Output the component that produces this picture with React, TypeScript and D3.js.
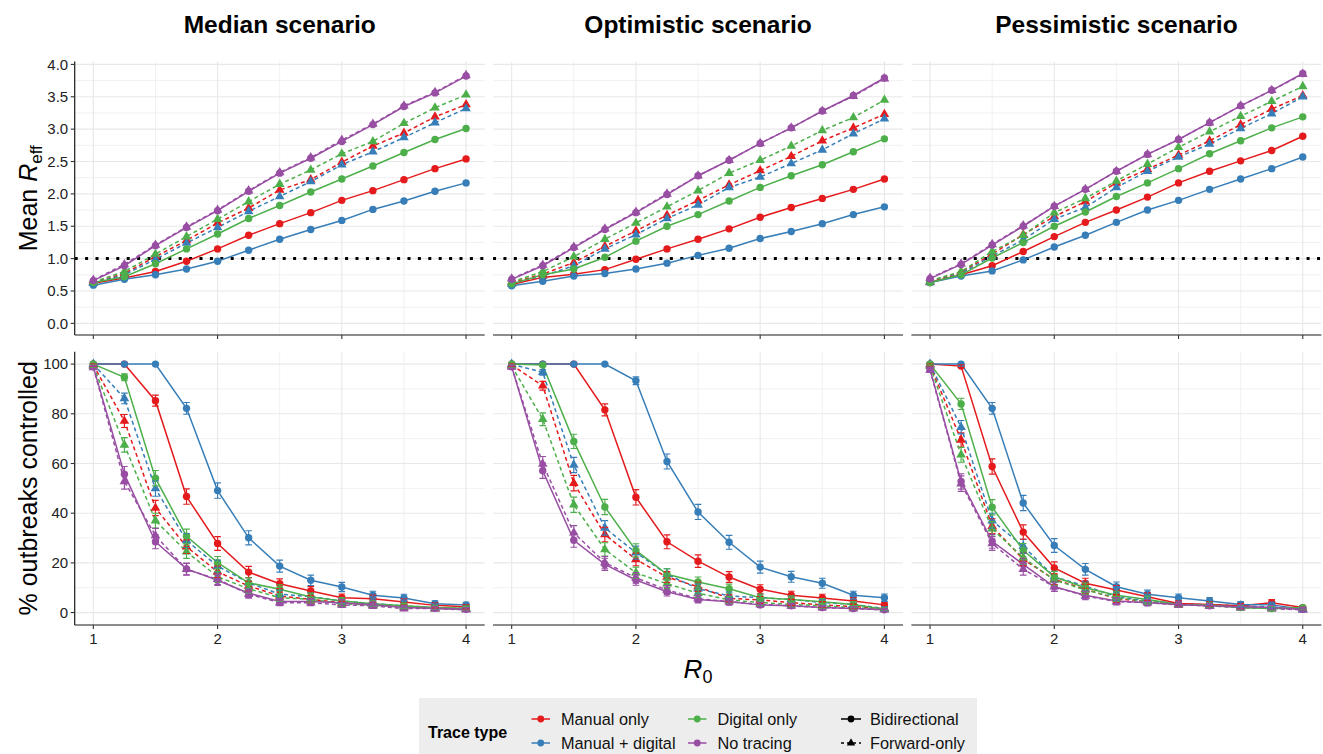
import React from "react";
import * as d3 from "d3";

// ---------- data ----------
const R0 = [1, 1.25, 1.5, 1.75, 2, 2.25, 2.5, 2.75, 3, 3.25, 3.5, 3.75, 4];
const scenarios = ["Median scenario", "Optimistic scenario", "Pessimistic scenario"];
const traceTypes = ["Manual only", "Manual + digital", "Digital only", "No tracing"];
const traceColors = ["#E41A1C", "#377EB8", "#4DAF4A", "#984EA3"];
const directions = ["Bidirectional", "Forward-only"];
const xTicks = [1, 2, 3, 4];
const xMinor = [1.5, 2.5, 3.5];
const reffTicks = [0, 0.5, 1, 1.5, 2, 2.5, 3, 3.5, 4];
const reffMinor = [0.25, 0.75, 1.25, 1.75, 2.25, 2.75, 3.25, 3.75];
const pctTicks = [0, 20, 40, 60, 80, 100];
const pctMinor = [10, 30, 50, 70, 90];
const reffThreshold = 1;
const simulationsPerPoint = 1000;

// Mean R_eff — Median scenario
const reffMedManualBi = [0.62, 0.70, 0.80, 0.96, 1.15, 1.36, 1.54, 1.71, 1.90, 2.05, 2.22, 2.39, 2.54];
const reffMedMixedBi = [0.59, 0.68, 0.75, 0.84, 0.96, 1.13, 1.30, 1.45, 1.59, 1.76, 1.89, 2.04, 2.17];
const reffMedDigitalBi = [0.63, 0.72, 0.92, 1.15, 1.38, 1.62, 1.82, 2.03, 2.23, 2.43, 2.64, 2.84, 3.01];
const reffMedNoneBi = [0.66, 0.89, 1.20, 1.48, 1.74, 2.04, 2.32, 2.55, 2.81, 3.07, 3.35, 3.56, 3.82];
const reffMedManualFw = [0.63, 0.77, 1.03, 1.28, 1.55, 1.78, 2.06, 2.22, 2.49, 2.74, 2.94, 3.19, 3.38];
const reffMedMixedFw = [0.62, 0.75, 0.99, 1.24, 1.48, 1.73, 1.96, 2.19, 2.45, 2.65, 2.87, 3.10, 3.32];
const reffMedDigitalFw = [0.64, 0.80, 1.07, 1.34, 1.61, 1.88, 2.15, 2.37, 2.62, 2.81, 3.09, 3.33, 3.53];
const reffMedNoneFw = [0.67, 0.91, 1.21, 1.49, 1.75, 2.05, 2.33, 2.56, 2.83, 3.08, 3.36, 3.57, 3.83];

// Mean R_eff — Optimistic scenario
const reffOptManualBi = [0.60, 0.71, 0.76, 0.83, 0.99, 1.15, 1.30, 1.46, 1.64, 1.79, 1.93, 2.07, 2.23];
const reffOptMixedBi = [0.58, 0.65, 0.73, 0.77, 0.84, 0.93, 1.05, 1.16, 1.31, 1.42, 1.54, 1.68, 1.80];
const reffOptDigitalBi = [0.61, 0.75, 0.84, 1.02, 1.27, 1.50, 1.68, 1.89, 2.10, 2.28, 2.45, 2.65, 2.85];
const reffOptNoneBi = [0.68, 0.89, 1.17, 1.45, 1.71, 1.99, 2.28, 2.52, 2.78, 3.02, 3.28, 3.52, 3.79];
const reffOptManualFw = [0.63, 0.76, 0.94, 1.19, 1.43, 1.67, 1.90, 2.14, 2.36, 2.58, 2.82, 3.02, 3.23];
const reffOptMixedFw = [0.61, 0.73, 0.89, 1.15, 1.37, 1.62, 1.83, 2.10, 2.26, 2.47, 2.68, 2.93, 3.16];
const reffOptDigitalFw = [0.64, 0.80, 1.03, 1.30, 1.55, 1.80, 2.05, 2.32, 2.52, 2.74, 2.98, 3.18, 3.45];
const reffOptNoneFw = [0.69, 0.90, 1.18, 1.46, 1.72, 2.00, 2.28, 2.52, 2.78, 3.02, 3.28, 3.51, 3.78];

// Mean R_eff — Pessimistic scenario
const reffPesManualBi = [0.63, 0.75, 0.89, 1.11, 1.34, 1.56, 1.75, 1.95, 2.17, 2.35, 2.51, 2.67, 2.89];
const reffPesMixedBi = [0.63, 0.73, 0.81, 0.98, 1.18, 1.36, 1.56, 1.75, 1.90, 2.07, 2.23, 2.39, 2.57];
const reffPesDigitalBi = [0.63, 0.75, 1.01, 1.25, 1.50, 1.72, 1.96, 2.17, 2.39, 2.62, 2.82, 3.02, 3.19];
const reffPesNoneBi = [0.69, 0.91, 1.21, 1.50, 1.81, 2.07, 2.35, 2.61, 2.84, 3.10, 3.36, 3.60, 3.86];
const reffPesManualFw = [0.64, 0.79, 1.07, 1.37, 1.65, 1.88, 2.17, 2.38, 2.60, 2.82, 3.07, 3.31, 3.52];
const reffPesMixedFw = [0.63, 0.77, 1.04, 1.29, 1.61, 1.79, 2.10, 2.35, 2.57, 2.77, 3.01, 3.24, 3.50];
const reffPesDigitalFw = [0.66, 0.80, 1.11, 1.36, 1.71, 1.93, 2.20, 2.46, 2.72, 2.96, 3.20, 3.43, 3.66];
const reffPesNoneFw = [0.70, 0.92, 1.22, 1.51, 1.81, 2.07, 2.35, 2.61, 2.84, 3.10, 3.36, 3.60, 3.85];

// % outbreaks controlled — Median scenario
const pctMedManualBi = [100, 100, 85.3, 46.7, 27.8, 16.3, 11.6, 8.7, 6.0, 5.6, 4.3, 2.9, 2.3];
const pctMedMixedBi = [100, 100, 100, 82.2, 49.1, 30.1, 18.7, 13.0, 10.3, 7.0, 5.9, 3.6, 3.1];
const pctMedDigitalBi = [100, 94.7, 54.1, 30.7, 20.1, 12.0, 9.4, 6.3, 4.7, 3.6, 2.7, 2.0, 1.7];
const pctMedNoneBi = [98.9, 55.7, 28.5, 17.6, 13.0, 7.8, 4.5, 4.5, 4.0, 3.2, 2.0, 1.7, 1.3];
const pctMedManualFw = [99.6, 77.1, 42.1, 26.5, 16.4, 10.7, 6.7, 5.3, 4.0, 3.1, 2.3, 1.7, 1.3];
const pctMedMixedFw = [100, 86.2, 49.9, 29.0, 18.7, 12.0, 7.4, 6.4, 4.7, 3.6, 2.7, 2.0, 1.6];
const pctMedDigitalFw = [99.2, 67.5, 37.0, 24.5, 14.4, 9.6, 6.0, 5.3, 3.6, 2.9, 2.3, 1.6, 1.3];
const pctMedNoneFw = [98.7, 52.8, 31.0, 17.4, 13.4, 7.4, 4.0, 4.0, 3.1, 2.7, 1.6, 1.6, 1.1];

// % outbreaks controlled — Optimistic scenario
const pctOptManualBi = [100, 100, 100, 81.6, 46.4, 28.5, 20.7, 14.3, 9.4, 7.0, 5.9, 4.7, 3.1];
const pctOptMixedBi = [100, 100, 100, 100, 93.3, 60.8, 40.5, 28.3, 18.3, 14.4, 11.8, 7.0, 6.0];
const pctOptDigitalBi = [100, 99.6, 68.9, 42.5, 25.0, 15.4, 12.3, 9.6, 6.0, 5.3, 4.4, 3.3, 1.3];
const pctOptNoneBi = [98.9, 57.1, 29.1, 19.4, 13.1, 8.4, 5.3, 4.4, 3.1, 2.7, 2.0, 1.6, 1.1];
const pctOptManualFw = [99.6, 91.3, 52.1, 31.4, 21.4, 14.3, 10.4, 5.7, 5.1, 4.0, 3.1, 2.4, 1.6];
const pctOptMixedFw = [100, 96.7, 59.4, 34.1, 24.1, 15.4, 9.6, 6.7, 6.0, 5.3, 4.0, 3.3, 1.6];
const pctOptDigitalFw = [99.2, 77.8, 43.4, 25.4, 16.0, 11.6, 7.8, 5.1, 4.0, 3.3, 2.7, 2.0, 1.3];
const pctOptNoneFw = [98.9, 59.8, 32.1, 20.1, 14.0, 9.1, 5.6, 4.4, 3.3, 2.7, 2.0, 1.6, 1.1];

// % outbreaks controlled — Pessimistic scenario
const pctPesManualBi = [100, 99.2, 58.8, 32.4, 18.0, 11.8, 9.1, 6.4, 3.7, 3.3, 2.7, 4.0, 2.0];
const pctPesMixedBi = [100, 100, 82.2, 44.1, 27.0, 17.4, 10.4, 7.4, 6.0, 4.7, 3.3, 3.1, 1.3];
const pctPesDigitalBi = [100, 84.0, 42.4, 25.1, 14.4, 10.0, 7.0, 5.3, 3.3, 3.1, 2.0, 1.6, 2.0];
const pctPesNoneBi = [97.9, 52.8, 28.7, 19.4, 10.4, 7.0, 4.7, 4.0, 3.3, 2.7, 2.3, 2.0, 1.3];
const pctPesManualFw = [99.6, 69.5, 34.8, 21.4, 13.4, 9.4, 5.6, 4.4, 3.3, 2.7, 2.3, 2.0, 1.3];
const pctPesMixedFw = [100, 74.6, 37.0, 26.7, 14.4, 10.7, 6.4, 4.7, 3.6, 3.1, 2.7, 2.3, 1.1];
const pctPesDigitalFw = [99.2, 63.5, 33.7, 22.1, 13.1, 9.1, 6.0, 4.4, 3.3, 2.7, 2.0, 1.6, 1.3];
const pctPesNoneFw = [97.6, 51.9, 27.8, 17.4, 10.4, 6.7, 4.4, 4.0, 3.1, 2.7, 2.0, 1.6, 1.1];

// [scenario][direction][traceType]
const reffTable = [
  [[reffMedManualBi, reffMedMixedBi, reffMedDigitalBi, reffMedNoneBi], [reffMedManualFw, reffMedMixedFw, reffMedDigitalFw, reffMedNoneFw]],
  [[reffOptManualBi, reffOptMixedBi, reffOptDigitalBi, reffOptNoneBi], [reffOptManualFw, reffOptMixedFw, reffOptDigitalFw, reffOptNoneFw]],
  [[reffPesManualBi, reffPesMixedBi, reffPesDigitalBi, reffPesNoneBi], [reffPesManualFw, reffPesMixedFw, reffPesDigitalFw, reffPesNoneFw]],
];
const pctTable = [
  [[pctMedManualBi, pctMedMixedBi, pctMedDigitalBi, pctMedNoneBi], [pctMedManualFw, pctMedMixedFw, pctMedDigitalFw, pctMedNoneFw]],
  [[pctOptManualBi, pctOptMixedBi, pctOptDigitalBi, pctOptNoneBi], [pctOptManualFw, pctOptMixedFw, pctOptDigitalFw, pctOptNoneFw]],
  [[pctPesManualBi, pctPesMixedBi, pctPesDigitalBi, pctPesNoneBi], [pctPesManualFw, pctPesMixedFw, pctPesDigitalFw, pctPesNoneFw]],
];

// ---------- layout ----------
const W = 1323;
const H = 754;
const FONT = "'Liberation Sans', Arial, Helvetica, sans-serif";
const panelLeft0 = 74.7;
const panelW = 410;
const panelStep = 418.35;
const topRows = [
  { y0: 61.5, y1: 335, domain: [-0.18, 4.045], ticks: reffTicks, minor: reffMinor, fmt: d3.format(".1f"), table: reffTable, errors: false },
  { y0: 351.7, y1: 625, domain: [-5, 105], ticks: pctTicks, minor: pctMinor, fmt: d3.format("d"), table: pctTable, errors: true },
];
const dashPattern = "4,3";
const triangle = d3.symbol().type(d3.symbolTriangle).size(40);

function ciHalfWidth(pct: number) {
  const p = pct / 100;
  return 196 * Math.sqrt((p * (1 - p)) / simulationsPerPoint);
}

function Panel({ col, row }: { col: number; row: number }) {
  const cfg = topRows[row];
  const x0 = panelLeft0 + col * panelStep;
  const x = d3.scaleLinear().domain([0.85, 4.15]).range([x0, x0 + panelW]);
  const y = d3.scaleLinear().domain(cfg.domain).range([cfg.y1, cfg.y0]);
  const line = d3
    .line<number>()
    .x((_, i) => x(R0[i]))
    .y((v) => y(v));

  const series: { values: number[]; color: string; dir: number; t: number }[] = [];
  directions.forEach((_, d) => {
    traceTypes.forEach((__, t) => {
      series.push({ values: cfg.table[col][d][t], color: traceColors[t], dir: d, t });
    });
  });
  const order = [...series].sort((a, b) => b.dir - a.dir || a.t - b.t);

  return (
    <g>
      {cfg.minor.map((v) => (
        <line key={"ym" + v} x1={x0} x2={x0 + panelW} y1={y(v)} y2={y(v)} stroke="#EFEFEF" strokeWidth={0.9} />
      ))}
      {xMinor.map((v) => (
        <line key={"xm" + v} x1={x(v)} x2={x(v)} y1={cfg.y0} y2={cfg.y1} stroke="#EFEFEF" strokeWidth={0.9} />
      ))}
      {cfg.ticks.map((v) => (
        <line key={"yM" + v} x1={x0} x2={x0 + panelW} y1={y(v)} y2={y(v)} stroke="#E8E8E8" strokeWidth={1.1} />
      ))}
      {xTicks.map((v) => (
        <line key={"xM" + v} x1={x(v)} x2={x(v)} y1={cfg.y0} y2={cfg.y1} stroke="#E8E8E8" strokeWidth={1.1} />
      ))}

      {row === 0 && (
        <line
          x1={x0}
          x2={x0 + panelW}
          y1={y(reffThreshold)}
          y2={y(reffThreshold)}
          stroke="#000"
          strokeWidth={3}
          strokeDasharray="3,7.4"
        />
      )}

      {order.map((s, i) => (
        <path
          key={"l" + i}
          d={line(s.values) || ""}
          fill="none"
          stroke={s.color}
          strokeWidth={1.5}
          strokeDasharray={s.dir === 1 ? dashPattern : undefined}
        />
      ))}
      {order.map((s, i) => (
        <g key={"p" + i} fill={s.color}>
          {s.values.map((v, j) =>
            s.dir === 0 ? (
              <circle key={j} cx={x(R0[j])} cy={y(v)} r={3.7} />
            ) : (
              <path key={j} d={triangle() || ""} transform={`translate(${x(R0[j])},${y(v)})`} />
            )
          )}
        </g>
      ))}
      {cfg.errors &&
        order.map((s, i) => (
          <g key={"e" + i} stroke={s.color} strokeWidth={1.15} fill="none">
            {s.values.map((v, j) => {
              const h = ciHalfWidth(v);
              if (h < 0.3) return null;
              const cx = x(R0[j]);
              const lo = y(Math.max(0, v - h));
              const hi = y(Math.min(100, v + h));
              return (
                <path key={j} d={`M${cx - 3.3},${hi}H${cx + 3.3}M${cx},${hi}V${lo}M${cx - 3.3},${lo}H${cx + 3.3}`} />
              );
            })}
          </g>
        ))}

      <line x1={x0} x2={x0 + panelW} y1={cfg.y1} y2={cfg.y1} stroke="#1a1a1a" strokeWidth={1.2} />
      {xTicks.map((v) => (
        <line key={"xt" + v} x1={x(v)} x2={x(v)} y1={cfg.y1} y2={cfg.y1 + 4} stroke="#333" strokeWidth={1.1} />
      ))}
      {row === 1 &&
        xTicks.map((v) => (
          <text key={"xl" + v} x={x(v)} y={cfg.y1 + 18.5} textAnchor="middle" fontSize={15} fill="#222" fontFamily={FONT}>
            {v}
          </text>
        ))}
      {col === 0 && (
        <g>
          <line x1={x0} x2={x0} y1={cfg.y0} y2={cfg.y1} stroke="#1a1a1a" strokeWidth={1.2} />
          {cfg.ticks.map((v) => (
            <g key={"yt" + v}>
              <line x1={x0 - 4} x2={x0} y1={y(v)} y2={y(v)} stroke="#333" strokeWidth={1.1} />
              <text x={x0 - 6.5} y={y(v) + 5.2} textAnchor="end" fontSize={15} fill="#222" fontFamily={FONT}>
                {cfg.fmt(v)}
              </text>
            </g>
          ))}
        </g>
      )}
      {row === 0 && (
        <text x={x0 + panelW / 2} y={32.5} textAnchor="middle" fontSize={24.5} fontWeight="bold" fill="#000" fontFamily={FONT}>
          {scenarios[col]}
        </text>
      )}
    </g>
  );
}

function Legend() {
  const rowY = [719, 743];
  const cols = [
    { key: 531.5, label: 561 },
    { key: 688, label: 717.5 },
  ];
  const keyW = 18.5;
  return (
    <g fontFamily={FONT}>
      <rect x={419} y={698} width={558} height={60} fill="#EDEDED" />
      <text x={428} y={737.5} fontSize={16} fontWeight="bold" fill="#000">
        Trace type
      </text>
      {traceTypes.map((t, i) => {
        const c = cols[Math.floor(i / 2)];
        const yy = rowY[i % 2];
        return (
          <g key={t}>
            <line x1={c.key} x2={c.key + keyW} y1={yy} y2={yy} stroke={traceColors[i]} strokeWidth={1.5} />
            <circle cx={c.key + keyW / 2} cy={yy} r={3.4} fill={traceColors[i]} />
            <text x={c.label} y={yy + 5.6} fontSize={16.3} fill="#111">
              {t}
            </text>
          </g>
        );
      })}
      {directions.map((d, i) => {
        const yy = rowY[i];
        const kx = 841;
        return (
          <g key={d}>
            <line
              x1={kx}
              x2={kx + 20}
              y1={yy}
              y2={yy}
              stroke="#000"
              strokeWidth={1.5}
              strokeDasharray={i === 1 ? "3,3" : undefined}
            />
            {i === 0 ? (
              <circle cx={kx + 10} cy={yy} r={3.4} fill="#000" />
            ) : (
              <path d={d3.symbol().type(d3.symbolTriangle).size(30)() || ""} transform={`translate(${kx + 10},${yy})`} fill="#000" />
            )}
            <text x={870} y={yy + 5.6} fontSize={16.3} fill="#111">
              {d}
            </text>
          </g>
        );
      })}
    </g>
  );
}

export default function App() {
  return (
    <svg
      width={W}
      height={H}
      viewBox={`0 0 ${W} ${H}`}
      style={{ position: "absolute", left: 0, top: 0, background: "#fff" }}
      fontFamily={FONT}
    >
      <rect width={W} height={H} fill="#fff" />
      {[0, 1].map((row) => [0, 1, 2].map((col) => <Panel key={`${row}-${col}`} row={row} col={col} />))}

      <text transform={`translate(37,${(61.5 + 335) / 2}) rotate(-90)`} textAnchor="middle" fontSize={25} fill="#000">
        Mean <tspan fontStyle="italic">R</tspan>
        <tspan fontSize={17} dy={5}>eff</tspan>
      </text>
      <text transform={`translate(37,${(351.7 + 625) / 2}) rotate(-90)`} textAnchor="middle" fontSize={25} fill="#000">
        % outbreaks controlled
      </text>
      <text x={698} y={678} textAnchor="middle" fontSize={26} fill="#000">
        <tspan fontStyle="italic">R</tspan>
        <tspan fontSize={18} dy={5}>0</tspan>
      </text>

      <Legend />
    </svg>
  );
}
